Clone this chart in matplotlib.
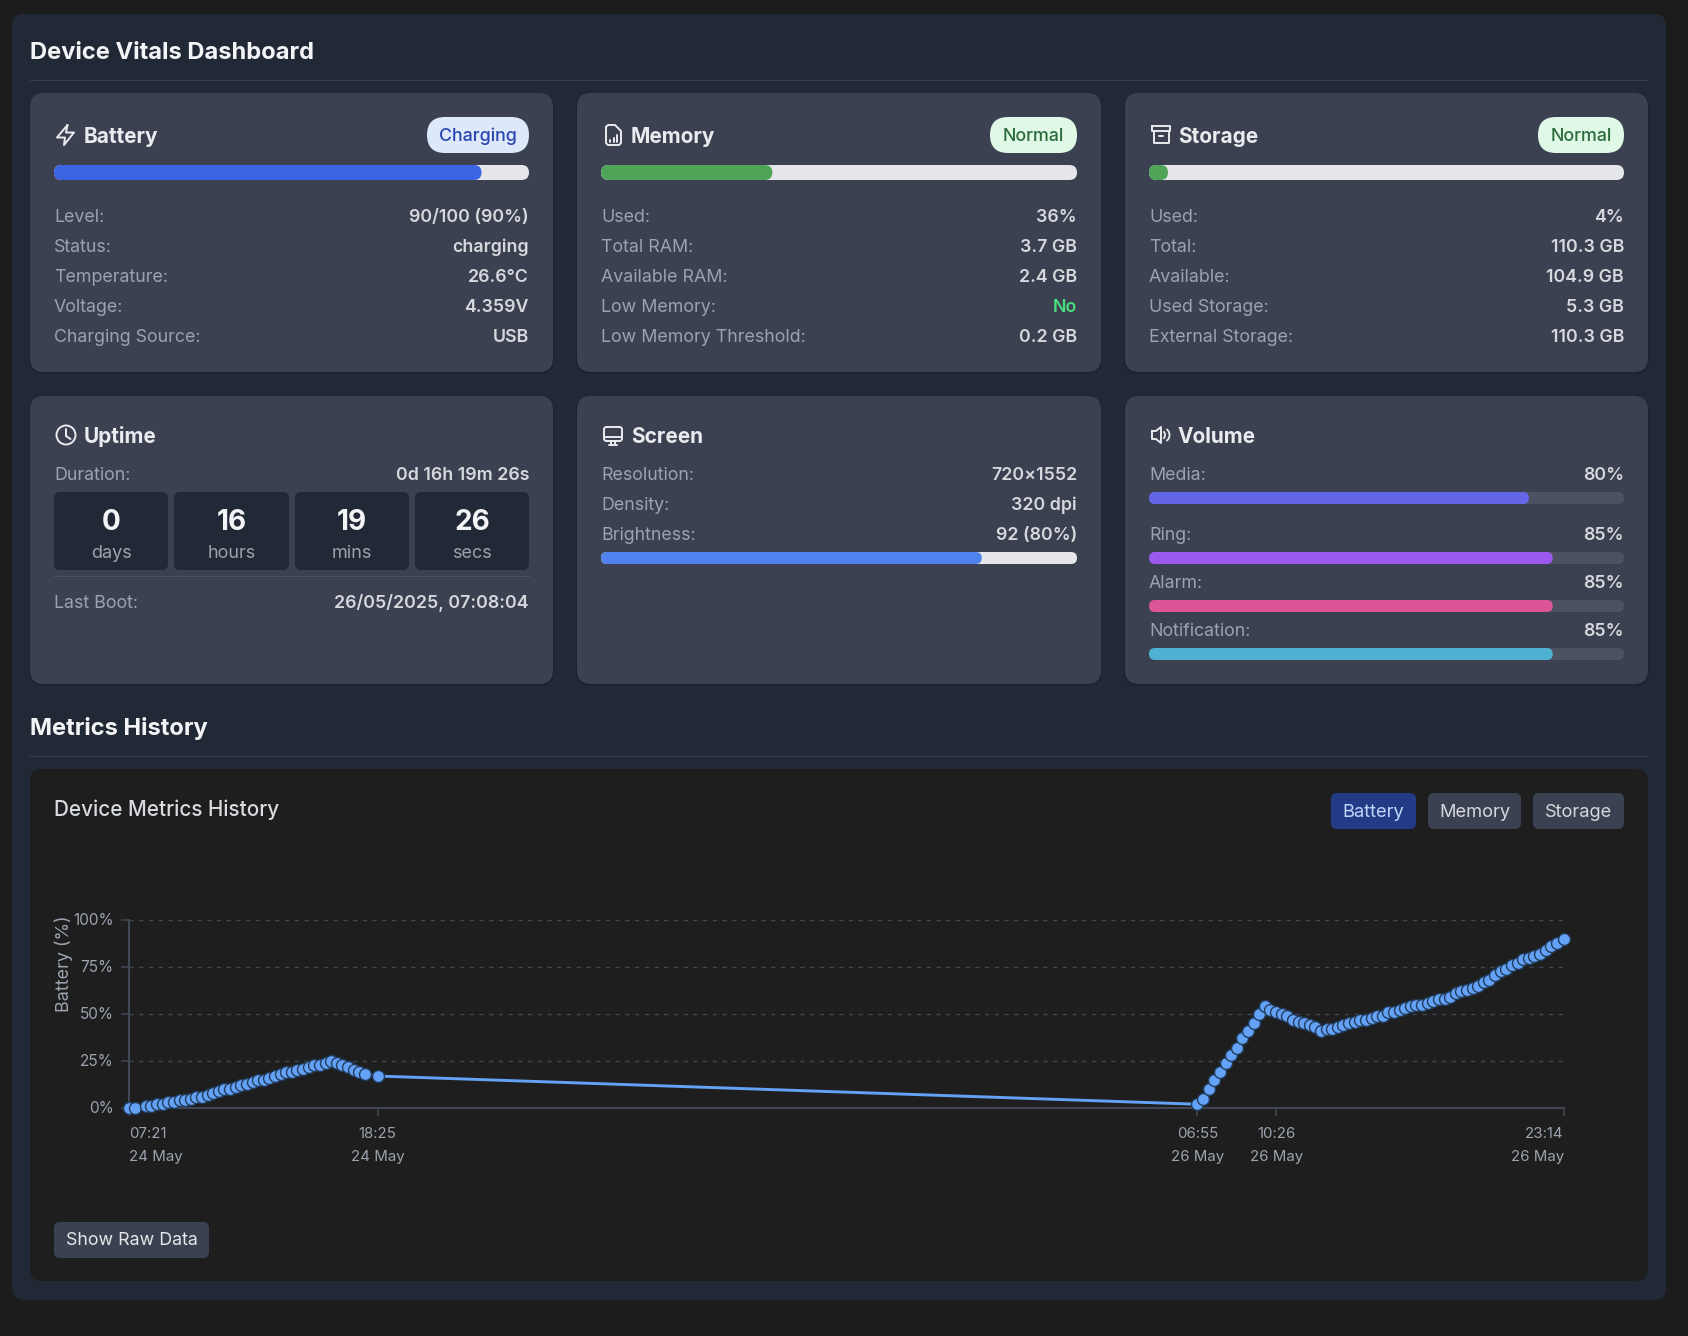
import matplotlib
matplotlib.use("Agg")
import matplotlib.pyplot as plt
from matplotlib.patches import FancyBboxPatch, Circle, Arc
from matplotlib.transforms import ScaledTranslation

plt.rcParams["font.family"] = ["Inter", "DejaVu Sans"]

W, H = 1688, 1336

# data
battery_rows = [("Level:", "90/100 (90%)"), ("Status:", "charging"), ("Temperature:", "26.6°C"),
                ("Voltage:", "4.359V"), ("Charging Source:", "USB")]
memory_rows = [("Used:", "36%"), ("Total RAM:", "3.7 GB"), ("Available RAM:", "2.4 GB"),
               ("Low Memory:", "No"), ("Low Memory Threshold:", "0.2 GB")]
storage_rows = [("Used:", "4%"), ("Total:", "110.3 GB"), ("Available:", "104.9 GB"),
                ("Used Storage:", "5.3 GB"), ("External Storage:", "110.3 GB")]
screen_rows = [("Resolution:", "720×1552"), ("Density:", "320 dpi"), ("Brightness:", "92 (80%)")]
uptime_values = ["0", "16", "19", "26"]
uptime_units = ["days", "hours", "mins", "secs"]
battery_pct = 90
memory_pct = 36
storage_pct = 4
brightness_pct = 80
volume_names = ["Media:", "Ring:", "Alarm:", "Notification:"]
volume_pct = [80, 85, 85, 85]

# minutes since 07:21 on 24 May
history_minutes = [0, 15, 45, 60, 75, 90, 105, 120, 135, 150, 165, 180, 195, 210, 225, 240, 255, 270,
                   285, 300, 315, 330, 345, 360, 375, 390, 405, 420, 435, 450, 465, 480, 495, 510,
                   525, 540, 555, 570, 585, 600, 615, 630, 664,
                   2854, 2869, 2884, 2899, 2914, 2929, 2944, 2959, 2974, 2989, 3004, 3019, 3034,
                   3049, 3064, 3079, 3094, 3109, 3124, 3139, 3154, 3169, 3184,
                   3199, 3214, 3229, 3244, 3259, 3274, 3289, 3304, 3319, 3334, 3349, 3364, 3379,
                   3394, 3409, 3424, 3439, 3454, 3469, 3484, 3499, 3514, 3529, 3544, 3559, 3574,
                   3589, 3604, 3619, 3634, 3649, 3664, 3679, 3694, 3709, 3724, 3739, 3754, 3769,
                   3784, 3799, 3814, 3833]
history_battery = [0, 0, 1, 1, 2, 2, 3, 3, 4, 4, 5, 6, 6, 7, 8, 9, 10, 10,
                   11, 12, 13, 14, 15, 15, 16, 17, 18, 19, 19, 20, 21, 22, 23, 23,
                   24, 25, 24, 23, 22, 20, 19, 18, 17,
                   2, 5, 10, 15, 19, 24, 28, 32, 37, 41, 45, 50, 54,
                   52, 51, 50, 49, 47, 46, 45, 44, 43, 41,
                   42, 42, 43, 44, 45, 46, 47, 47, 48, 49, 49, 51, 51,
                   52, 53, 54, 55, 55, 56, 57, 58, 58, 59, 61, 62, 63,
                   64, 65, 67, 68, 71, 73, 74, 76, 77, 79, 80, 81, 82,
                   84, 86, 88, 90]
tick_minutes = [0, 664, 2854, 3065, 3833]
tick_labels = ["07:21\n24 May", "18:25\n24 May", "06:55\n26 May", "10:26\n26 May", "23:14\n26 May"]
y_ticks = [0, 25, 50, 75, 100]

BG = "#1c1c1c"
PANEL = "#222936"
CARD = "#3b4150"
LABEL = "#9ca3af"
VALUE = "#d5d8dd"
HEAD = "#e9ebef"
BLUE = "#3b64e3"
GREEN = "#4fa458"
TRACK = "#e5e7eb"

fig = plt.figure(figsize=(W / 100, H / 100), dpi=100, facecolor=BG)
bg = fig.add_axes([0, 0, 1, 1])
bg.set_xlim(0, W)
bg.set_ylim(H, 0)
bg.axis("off")


def px(size):
    return size * 0.72


def box(x0, y0, x1, y1, r, color, z=1):
    p = FancyBboxPatch((x0, y0), x1 - x0, y1 - y0, boxstyle=f"round,pad=0,rounding_size={r}",
                       fc=color, ec="none", zorder=z)
    bg.add_patch(p)


def text(x, y, s, size=17.8, color=VALUE, ha="left", weight="normal"):
    bg.text(x, y, s, fontsize=px(size), color=color, ha=ha, va="baseline", weight=weight, zorder=5)


def card(x0, y0, x1, y1):
    box(x0 - 1, y0 + 1, x1 + 1, y1 + 2, 14, "#1d232f", 1)
    box(x0, y0, x1, y1, 14, CARD, 2)


def bar(x0, x1, y0, y1, pct, color, track=TRACK):
    box(x0, y0, x1, y1, (y1 - y0) / 2, track, 3)
    box(x0, y0, x0 + (x1 - x0) * pct / 100, y1, (y1 - y0) / 2, color, 4)


def rows(x0, x1, ys, items):
    for y, (name, val) in zip(ys, items):
        text(x0, y, name, color=LABEL)
        text(x1, y, val, ha="right", color="#4ade80" if val == "No" else VALUE, weight="semibold", size=17.8)


def badge(x0, x1, label, fc, tc):
    box(x0, 117, x1, 153, 18, fc, 3)
    text((x0 + x1) / 2, 141, label, ha="center", color=tc, size=17.8, weight="medium")


def stroke(xs, ys):
    bg.plot(xs, ys, color=HEAD, lw=1.4, solid_capstyle="round", solid_joinstyle="round", zorder=6)


# page
box(12, 14, 1666, 1300, 12, PANEL, 0)
text(30, 59, "Device Vitals Dashboard", size=23.7, color="#f3f4f6", weight="bold")
bg.plot([30, 1648], [80, 80], color="#363d4c", lw=0.8, zorder=1)
text(30, 735, "Metrics History", size=23.7, color="#f3f4f6", weight="bold")
bg.plot([30, 1648], [756, 756], color="#363d4c", lw=0.8, zorder=1)

col_x = [(30, 553), (577, 1101), (1125, 1648)]
row_y = [221.5, 251.5, 281.5, 311.5, 341.5]

for (x0, x1) in col_x:
    card(x0, 93, x1, 372)
    card(x0, 396, x1, 684)

# top row
text(84, 143, "Battery", size=20.8, color=HEAD, weight="bold")
badge(427, 529, "Charging", "#dde8fb", "#2a45b0")
bar(54, 529, 165, 180, battery_pct, BLUE)
rows(54, 529, row_y, battery_rows)

text(631, 143, "Memory", size=20.8, color=HEAD, weight="bold")
badge(990, 1077, "Normal", "#e0f9e6", "#2c6b3c")
bar(601, 1077, 165, 180, memory_pct, GREEN)
rows(601, 1077, row_y, memory_rows)

text(1178, 143, "Storage", size=20.8, color=HEAD, weight="bold")
badge(1538, 1624, "Normal", "#e0f9e6", "#2c6b3c")
bar(1149, 1624, 165, 180, storage_pct, GREEN)
rows(1149, 1624, row_y, storage_rows)

# uptime
text(84, 443, "Uptime", size=20.8, color=HEAD, weight="bold")
rows(54, 529, [479.5], [("Duration:", "0d 16h 19m 26s")])
box_x = [(54, 168), (174, 289), (295, 409), (415, 529)]
for (x0, x1), v, u in zip(box_x, uptime_values, uptime_units):
    box(x0, 492, x1, 570, 6, PANEL, 3)
    text((x0 + x1) / 2, 530, v, size=28, color="#f3f4f6", ha="center", weight="bold")
    text((x0 + x1) / 2, 558, u, size=18, color=LABEL, ha="center")
bg.plot([54, 529], [576, 576], color="#4b5261", lw=0.8, zorder=3)
rows(54, 529, [607.5], [("Last Boot:", "26/05/2025, 07:08:04")])

# screen
text(631, 443, "Screen", size=20.8, color=HEAD, weight="bold")
rows(601, 1077, [479.5, 509.5, 539.5], screen_rows)
bar(601, 1077, 552, 564, brightness_pct, "#4f82ec", "#e5e7eb")

# volume
text(1178, 443, "Volume", size=20.8, color=HEAD, weight="bold")
vol_y = [479.5, 539.5, 587.5, 635.5]
vol_bar = [492, 552, 600, 648]
vol_col = ["#6366e8", "#9b59ee", "#db5598", "#50b2d2"]
rows(1149, 1624, vol_y, [(n, f"{p}%") for n, p in zip(volume_names, volume_pct)])
for y, p, c in zip(vol_bar, volume_pct, vol_col):
    bar(1149, 1624, y, y + 12, p, c, "#4c5261")

# icons
stroke([67.5, 57, 65, 64, 74, 66, 67.5], [125, 137.5, 137.5, 145, 132.5, 132.5, 125])
bg.add_patch(Circle((66, 435), 9.5, fc="none", ec=HEAD, lw=1.4, zorder=6))
stroke([66, 66, 70.5], [429, 436, 439])
stroke([606, 606, 608, 619, 621, 621, 615, 608, 606], [127, 143, 145, 145, 143, 131, 125, 125, 127])
for bx, by in [(610, 140), (613.5, 137.5), (617, 135)]:
    stroke([bx, bx], [141.5, by])
stroke([1152, 1170, 1170, 1152, 1152], [126, 126, 131, 131, 126])
stroke([1153.5, 1153.5, 1168.5, 1168.5], [131, 143, 143, 131])
stroke([1159, 1163], [136, 136])
bg.add_patch(FancyBboxPatch((604, 427), 18, 14, boxstyle="round,pad=0,rounding_size=2.5",
                            fc="none", ec=HEAD, lw=1.4, zorder=6))
stroke([604, 622], [437, 437])
stroke([609, 617], [445, 445])
stroke([611, 611], [441, 445])
stroke([615, 615], [441, 445])
stroke([1152, 1156, 1161, 1161, 1156, 1152, 1152], [431, 431, 427, 443, 439, 439, 431])
bg.add_patch(Arc((1162, 435), 6, 8, theta1=-70, theta2=70, ec=HEAD, lw=1.3, zorder=6))
bg.add_patch(Arc((1163, 435), 13, 14, theta1=-60, theta2=60, ec=HEAD, lw=1.3, zorder=6))

# chart panel
box(30, 769, 1648, 1281, 12, "#1e1e1e", 1)
text(54, 816, "Device Metrics History", size=20.7, color="#d8dbe0", weight="medium")
for x0, x1, label, fc, tc in [(1331, 1416, "Battery", "#233a86", "#bfd7fb"),
                              (1428, 1521, "Memory", "#3a4150", "#d5d8dd"),
                              (1533, 1624, "Storage", "#3a4150", "#d5d8dd")]:
    box(x0, 793, x1, 829, 6, fc, 2)
    text((x0 + x1) / 2, 817, label, size=18.3, color=tc, ha="center")
box(54, 1222, 209, 1258, 6, "#3a4150", 2)
text(131.5, 1245, "Show Raw Data", size=17.8, color="#e5e7eb", ha="center")

ax = fig.add_axes([129 / W, 1 - 1108 / H, (1564 - 129) / W, (1108 - 920) / H])
ax.patch.set_alpha(0)
ax.set_xlim(0, 3833)
ax.set_ylim(0, 100)
ax.plot(history_minutes, history_battery, color="#63a2f7", lw=2.1, marker="o", ms=8.6,
        mfc="#63a2f7", mec="#223c5c", mew=1.0, clip_on=False, zorder=5)
for s in ["top", "right"]:
    ax.spines[s].set_visible(False)
for s in ["left", "bottom"]:
    ax.spines[s].set_color("#414858")
    ax.spines[s].set_linewidth(1.4)
ax.set_yticks(y_ticks)
ax.set_yticklabels([f"{v}%" for v in y_ticks], fontsize=px(15.3), color=LABEL)
ax.set_xticks(tick_minutes)
ax.set_xticklabels(tick_labels, fontsize=px(15), color=LABEL, linespacing=1.8)
ax.tick_params(axis="both", color="#414858", width=1.1, length=6)
ax.tick_params(axis="y", pad=5)
ax.tick_params(axis="x", pad=7.8)
xt = ax.get_xticklabels()
xt[0].set_ha("left")
xt[-1].set_ha("right")
for lab in xt:
    lab.set_multialignment("center")
xt[0].set_multialignment("left")
xt[-1].set_multialignment("right")
for lab in ax.get_yticklabels():
    lab.set_transform(lab.get_transform() + ScaledTranslation(0, 1 / 100, fig.dpi_scale_trans))
ax.grid(axis="y", color="#3f4656", lw=1, linestyle=(0, (3, 4)))
ax.set_axisbelow(True)
ax.set_ylabel("Battery (%)", fontsize=px(18), color=LABEL)
ax.yaxis.set_label_coords(-56 / (1564 - 129), 0.768)

fig.savefig("out.png", dpi=100, facecolor=BG)
